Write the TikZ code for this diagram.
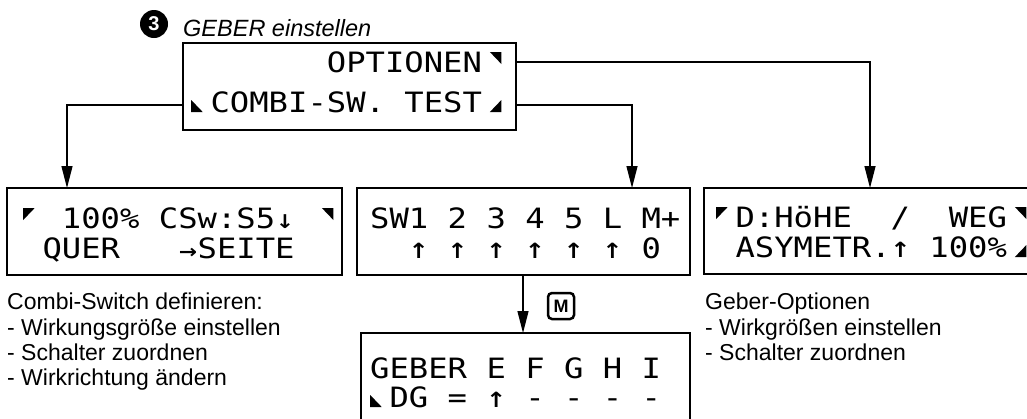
\documentclass[tikz,border=0pt]{standalone}
\usepackage{fontspec}
\usepackage{graphicx}
\setmainfont{Liberation Sans}
\newfontfamily\lcdfamily{DejaVu Sans Mono}
\newfontfamily\symf{DejaVu Sans}
\usetikzlibrary{arrows.meta}
\newlength\cw
\newcommand\lcd{\lcdfamily\fontsize{28}{30}\selectfont}
\AtBeginDocument{\settowidth{\cw}{\lcd 0}}
\newcommand\sk[1]{\hspace*{#1\cw}}
\newcommand\tUL{\makebox[\cw][l]{\tikz[baseline=0pt]\fill (1pt,20pt)--(11pt,20pt)--(1pt,8pt)--cycle;}}
\newcommand\tUR{\makebox[\cw][r]{\tikz[baseline=0pt]\fill (0pt,20pt)--(10pt,20pt)--(10pt,8pt)--cycle;}}
\newcommand\tLL{\makebox[\cw][l]{\tikz[baseline=0pt]\fill (1pt,0pt)--(11pt,0pt)--(1pt,12pt)--cycle;}}
\newcommand\tLR{\makebox[\cw][r]{\tikz[baseline=0pt]\fill (0pt,0pt)--(10pt,0pt)--(10pt,12pt)--cycle;}}
\newcommand\uarr{\makebox[\cw]{\symf\bfseries\fontsize{21}{21}\selectfont ↑}}
\newcommand\darr{\makebox[\cw]{\symf\bfseries\fontsize{19}{19}\selectfont ↓}}
\newcommand\rarr{\makebox[\cw]{\symf\bfseries\fontsize{19}{19}\selectfont →}}
\newcommand\lcdtxt[1]{\scalebox{1.15}[1]{\lcd #1}}
\tikzset{
  lcdbox/.style={draw, line width=1.6pt, outer sep=0pt, inner sep=0pt},
  lcdline/.style={anchor=base west, inner sep=0pt},
  desc/.style={anchor=base west, inner sep=0pt, font=\fontsize{23}{25}\selectfont},
  arr/.style={line width=1.3pt, -{Triangle[length=22pt,width=11pt]}},
}
\begin{document}
\begin{tikzpicture}[x=1pt,y=-1pt]
\useasboundingbox (0,0) rectangle (1027,418);
% header
\node[circle, fill=black, minimum size=28pt, inner sep=0pt, text=white, font=\bfseries\fontsize{20}{20}\selectfont] (num) at (154,24) {3};
\node[anchor=base west, inner sep=0pt, font=\itshape\fontsize{23.5}{24}\selectfont] (title) at (183,36) {GEBER einstellen};
% boxes
\node[lcdbox, minimum width=333pt, minimum height=87pt] (top) at (349.5,86.5) {};
\node[lcdbox, minimum width=335pt, minimum height=87pt] (left) at (174.5,231.5) {};
\node[lcdbox, minimum width=333pt, minimum height=87pt] (mid) at (523.5,231.5) {};
\node[lcdbox, minimum width=336pt, minimum height=86pt] (right) at (872,231) {};
\node[lcdbox, minimum width=329pt, minimum height=107pt] (bot) at (525.5,386.5) {};
% lcd texts
\node[lcdline] (t1) at (191,72) {\lcdtxt{\sk{7}OPTIONEN\tUR}};
\node[lcdline] (t2) at (191,112) {\lcdtxt{\tLL COMBI-SW.\sk{1}TEST\tLR}};
\node[lcdline] (l1) at (23,228) {\lcdtxt{\tUL\sk{1}100\%\sk{1}CSw:S5\darr\sk{1}\tUR}};
\node[lcdline] (l2) at (23,258) {\lcdtxt{\sk{1}QUER\sk{3}\rarr SEITE}};
\node[lcdline] (m1) at (370,228) {\lcdtxt{SW1\sk{1}2\sk{1}3\sk{1}4\sk{1}5\sk{1}L\sk{1}M+}};
\node[lcdline] (m2) at (370,258) {\lcdtxt{\sk{2}\uarr\sk{1}\uarr\sk{1}\uarr\sk{1}\uarr\sk{1}\uarr\sk{1}\uarr\sk{1}0}};
\node[lcdline] (r1) at (716,227) {\lcdtxt{\tUL D:HöHE\sk{2}/\sk{2}WEG\tUR}};
\node[lcdline] (r2) at (716,257) {\lcdtxt{\sk{1}ASYMETR.\uarr\sk{1}100\%\tLR}};
\node[lcdline] (b1) at (370,378) {\lcdtxt{GEBER\sk{1}E\sk{1}F\sk{1}G\sk{1}H\sk{1}I}};
\node[lcdline] (b2) at (370,407) {\lcdtxt{\tLL DG\sk{1}=\sk{1}\uarr\sk{1}-\sk{1}-\sk{1}-\sk{1}-}};
% descriptions
\node[desc] (d1) at (7,309) {Combi-Switch definieren:};
\node[desc] (d2) at (7,335) {- Wirkungsgröße einstellen};
\node[desc] (d3) at (7,360) {- Schalter zuordnen};
\node[desc] (d4) at (7,385) {- Wirkrichtung ändern};
\node[desc] (g1) at (705,309) {Geber-Optionen};
\node[desc] (g2) at (705,335) {- Wirkgrößen einstellen};
\node[desc] (g3) at (705,360) {- Schalter zuordnen};
% M key
\node[draw, line width=2.5pt, rounded corners=4pt, minimum width=26pt, minimum height=26pt, inner sep=0pt, font=\bfseries\fontsize{18}{18}\selectfont] (mkey) at (561,306) {M};
% connectors
\draw[arr] ([yshift=-18.5pt]top.west) -| ([xshift=60pt]left.north west);
\draw[arr] ([yshift=-18.5pt]top.east) -| ([xshift=275pt]mid.north west);
\draw[arr] ([yshift=24.5pt]top.east) -| ([xshift=166pt]right.north west);
\draw[arr] ([xshift=166pt]mid.south west) -- ([xshift=166pt]mid.south west |- bot.north);
\end{tikzpicture}
\end{document}
